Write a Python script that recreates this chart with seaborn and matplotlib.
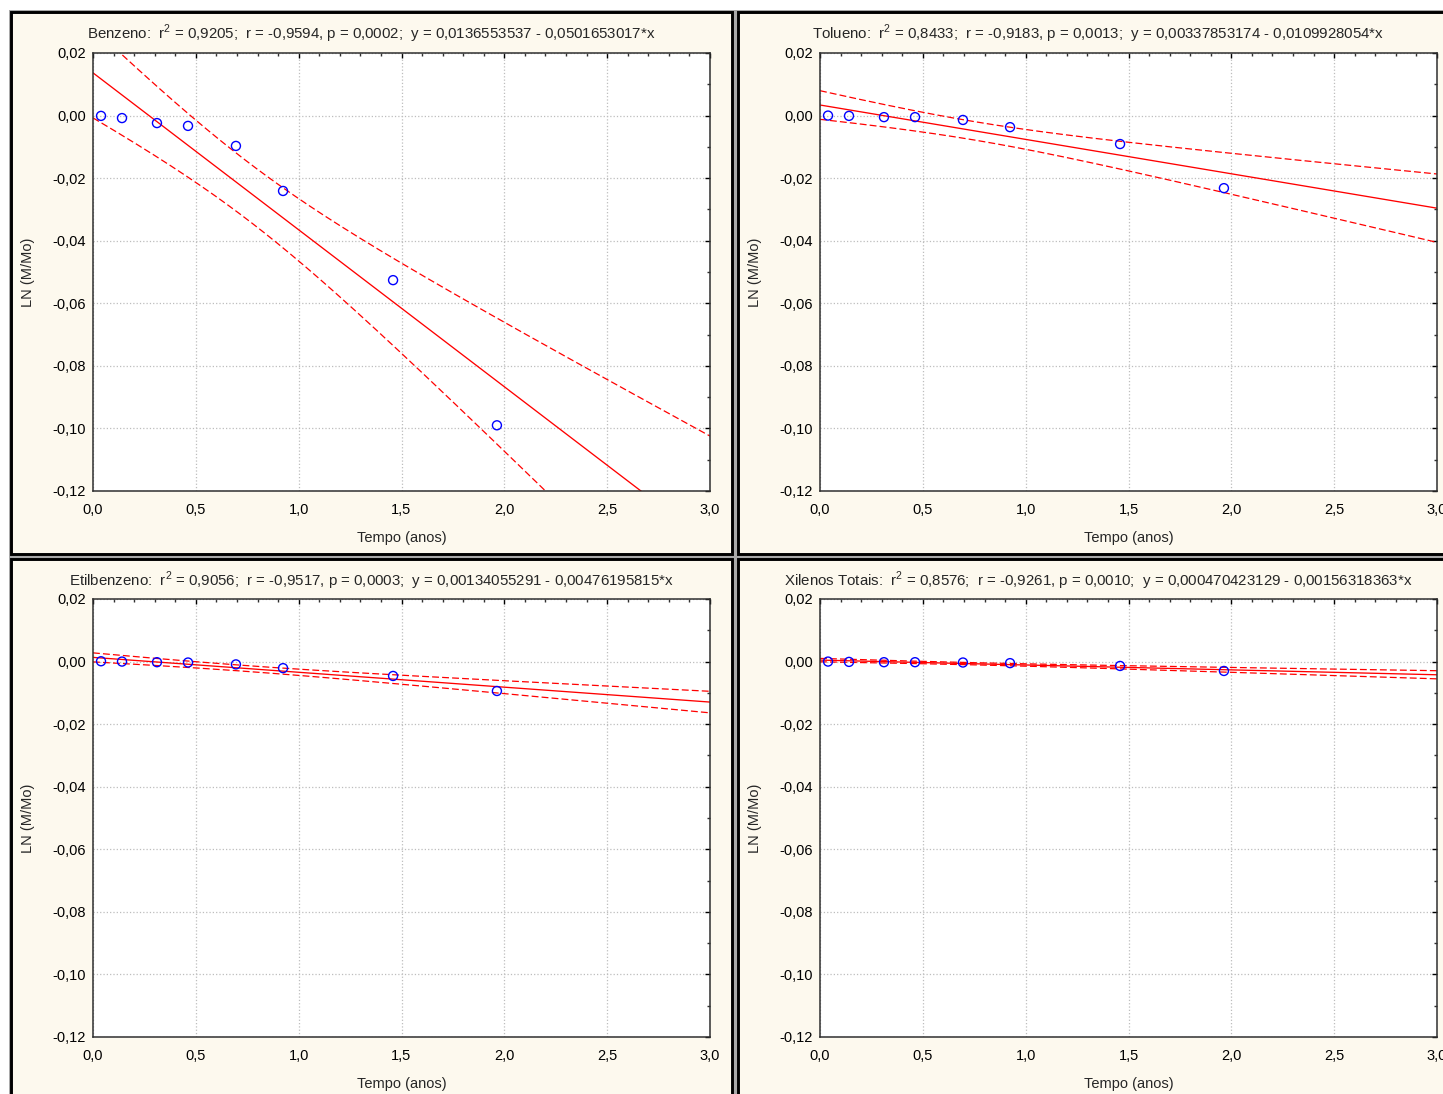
import numpy as np
import pandas as pd
import seaborn as sns
import matplotlib.pyplot as plt
from matplotlib.patches import Rectangle
from matplotlib.ticker import MultipleLocator, FuncFormatter

# Dados -----------------------------------------------------------------------

tempo = [0.039, 0.141, 0.311, 0.462, 0.695, 0.924, 1.459, 1.964]

benzeno = [-0.0001, -0.0008, -0.0024, -0.0033, -0.0097, -0.0241, -0.0526, -0.0990]
tolueno = [0.0000, -0.0001, -0.0005, -0.0005, -0.0014, -0.0037, -0.0091, -0.0232]
etilbenzeno = [0.0001, 0.0000, -0.0002, -0.0003, -0.0009, -0.0021, -0.0046, -0.0094]
xilenos = [0.0000, -0.0001, -0.0002, -0.0002, -0.0003, -0.0005, -0.0014, -0.0030]

compostos = ["Benzeno", "Tolueno", "Etilbenzeno", "Xilenos Totais"]
intercepto = [0.0136553537, 0.00337853174, 0.00134055291, 0.000470423129]
inclinacao = [-0.0501653017, -0.0109928054, -0.00476195815, -0.00156318363]
r2_txt = ["0,9205", "0,8433", "0,9056", "0,8576"]
r_txt = ["-0,9594", "-0,9183", "-0,9517", "-0,9261"]
p_txt = ["0,0002", "0,0013", "0,0003", "0,0010"]
eq_txt = ["0,0136553537 - 0,0501653017*x",
          "0,00337853174 - 0,0109928054*x",
          "0,00134055291 - 0,00476195815*x",
          "0,000470423129 - 0,00156318363*x"]

T_975_DF6 = 2.4469  # t de Student, 95%, 6 g.l.

# Estilo ----------------------------------------------------------------------

sns.set_style("white")
plt.rcParams["font.family"] = ["Liberation Sans", "DejaVu Sans"]
plt.rcParams["mathtext.fontset"] = "custom"
plt.rcParams["mathtext.rm"] = "Liberation Sans"

W, H = 1443, 1094
fig = plt.figure(figsize = (W / 100, H / 100), dpi = 100)
fig.patch.set_facecolor("white")

def fx(px):
  return px / W

def fy(py):
  return 1 - py / H

def fig_rect(x0, y0, x1, y1, **kw):
  r = Rectangle((fx(x0), fy(y1)), fx(x1) - fx(x0), fy(y0) - fy(y1),
                transform = fig.transFigure, **kw)
  fig.add_artist(r)

# fundo cinza entre os paineis e os paineis creme
fig_rect(9, 10, 1470, 1120, facecolor = "#A9A9A9", edgecolor = "none", zorder = -3)
paineis = [(10.5, 11.5, 732.5, 554), (737.5, 11.5, 1470, 554),
           (10.5, 558.5, 732.5, 1120), (737.5, 558.5, 1470, 1120)]
for (x0, y0, x1, y1) in paineis:
  fig_rect(x0, y0, x1, y1, facecolor = "#FDF9EE", edgecolor = "black",
           linewidth = 2.1, zorder = -2)

eixos = [(93, 53), (820, 53), (93, 599), (820, 599)]
ax_w, ax_h = 617, 438

virgula = FuncFormatter(lambda v, pos: f"{v:.2f}".replace(".", ",").replace("-0,00", "0,00"))
virgula_x = FuncFormatter(lambda v, pos: f"{v:.1f}".replace(".", ","))

series = [benzeno, tolueno, etilbenzeno, xilenos]

for i, nome in enumerate(compostos):
  left, top = eixos[i]
  ax = fig.add_axes([fx(left), fy(top + ax_h), ax_w / W, ax_h / H])

  x = np.array(tempo)
  y = np.array(series[i])
  a, b = intercepto[i], inclinacao[i]

  # intervalo de confiança 95% da reta
  n = len(x)
  resid = y - (a + b * x)
  s = np.sqrt(np.sum(resid ** 2) / (n - 2))
  sxx = np.sum((x - x.mean()) ** 2)
  xg = np.linspace(0, 3, 300)
  yg = a + b * xg
  hw = T_975_DF6 * s * np.sqrt(1 / n + (xg - x.mean()) ** 2 / sxx)

  df_fit = pd.DataFrame({"x": xg, "fit": yg, "lo": yg - hw, "hi": yg + hw})
  df_pts = pd.DataFrame({"tempo": x, "ln": y})

  sns.lineplot(data = df_fit, x = "x", y = "fit", color = "red", linewidth = 0.95, ax = ax)
  for col in ["lo", "hi"]:
    sns.lineplot(data = df_fit, x = "x", y = col, color = "red", linewidth = 0.9,
                 dashes = False, ax = ax).lines[-1].set_dashes((5.5, 2.5))
  sns.scatterplot(data = df_pts, x = "tempo", y = "ln", marker = "o", s = 42,
                  facecolor = "none", edgecolor = "blue", linewidth = 1.0, zorder = 5, ax = ax)

  ax.set_xlim(0, 3)
  ax.set_ylim(-0.12, 0.02)
  ax.xaxis.set_major_locator(MultipleLocator(0.5))
  ax.xaxis.set_minor_locator(MultipleLocator(0.1))
  ax.yaxis.set_major_locator(MultipleLocator(0.02))
  ax.yaxis.set_minor_locator(MultipleLocator(0.01))
  ax.xaxis.set_major_formatter(virgula_x)
  ax.yaxis.set_major_formatter(virgula)
  ax.tick_params(which = "both", direction = "in", top = True, right = True,
                 color = "#303030", width = 1.0)
  ax.tick_params(which = "major", length = 3.5, labelsize = 10.5, colors = "black")
  ax.tick_params(which = "minor", length = 2.5)
  ax.tick_params(axis = "x", which = "major", pad = 9)
  ax.tick_params(axis = "y", which = "major", pad = 5)
  ax.grid(True, which = "major", color = "#BDBDBD", linestyle = ":", linewidth = 0.9)
  for sp in ax.spines.values():
    sp.set_color("#303030")
    sp.set_linewidth(1.1)
  ax.set_facecolor("white")

  ax.set_xlabel("Tempo (anos)", fontsize = 10.5)
  ax.xaxis.set_label_coords(0.5, -0.107)
  ax.xaxis.label.set_verticalalignment("center")
  ax.set_ylabel("LN (M/Mo)", fontsize = 10.5)
  ax.yaxis.set_label_coords(-0.105, 0.5)
  ax.yaxis.label.set_verticalalignment("center")

  x0, y0, x1, y1 = paineis[i]
  titulo = (f"{nome}:  r$^{{\\mathregular{{2}}}}$ = {r2_txt[i]};  r = {r_txt[i]}, "
            f"p = {p_txt[i]};  y = {eq_txt[i]}")
  fig.text(fx((x0 + x1) / 2 if i % 2 == 0 else x0 + 361), fy(y0 + 22.5), titulo,
           ha = "center", va = "center", fontsize = 10.8)

fig.savefig("out.png", dpi = 100)
